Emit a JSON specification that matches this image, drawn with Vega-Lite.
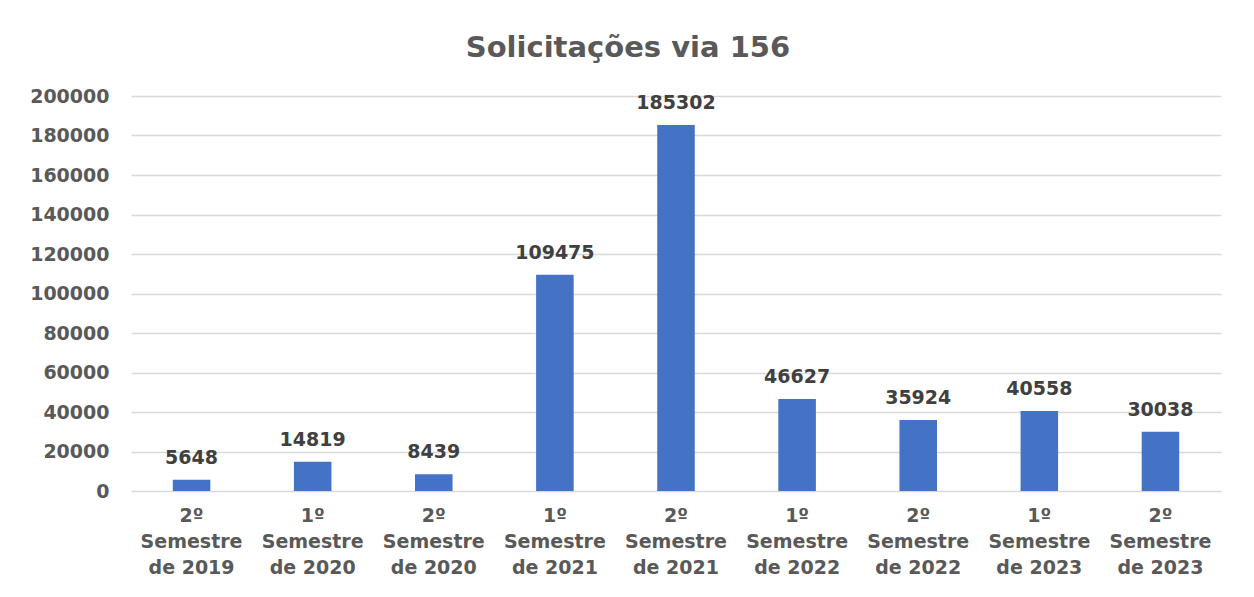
{
  "$schema": "https://vega.github.io/schema/vega-lite/v6.json",
  "width": 1090,
  "height": 395,
  "autosize": "none",
  "padding": {"left": 131, "top": 96, "right": 33, "bottom": 106},
  "background": "white",
  "title": {
    "text": "Solicitações via 156",
    "font": "DejaVu Sans",
    "fontSize": 29,
    "fontWeight": "bold",
    "color": "#595959",
    "anchor": "middle",
    "dx": -48,
    "offset": 24
  },
  "data": {
    "values": [
      {"periodo": "2º|Semestre|de 2019", "valor": 5648},
      {"periodo": "1º|Semestre|de 2020", "valor": 14819},
      {"periodo": "2º|Semestre|de 2020", "valor": 8439},
      {"periodo": "1º|Semestre|de 2021", "valor": 109475},
      {"periodo": "2º|Semestre|de 2021", "valor": 185302},
      {"periodo": "1º|Semestre|de 2022", "valor": 46627},
      {"periodo": "2º|Semestre|de 2022", "valor": 35924},
      {"periodo": "1º|Semestre|de 2023", "valor": 40558},
      {"periodo": "2º|Semestre|de 2023", "valor": 30038}
    ]
  },
  "encoding": {
    "x": {
      "field": "periodo",
      "type": "nominal",
      "sort": null,
      "scale": {"paddingInner": 0.69, "paddingOuter": 0.345},
      "axis": {
        "title": null,
        "labelAngle": 0,
        "labelExpr": "split(datum.value, '|')",
        "labelFont": "DejaVu Sans",
        "labelFontSize": 19,
        "labelFontWeight": "bold",
        "labelColor": "#595959",
        "labelLineHeight": 26,
        "labelPadding": 15,
        "ticks": false,
        "domain": false,
        "labelBaseline": "top"
      }
    },
    "y": {
      "field": "valor",
      "type": "quantitative",
      "scale": {"domain": [0, 200000], "nice": false},
      "axis": {
        "title": null,
        "values": [0, 20000, 40000, 60000, 80000, 100000, 120000, 140000, 160000, 180000, 200000],
        "format": "d",
        "labelFont": "DejaVu Sans",
        "labelFontSize": 19,
        "labelFontWeight": "bold",
        "labelColor": "#595959",
        "labelPadding": 22,
        "ticks": false,
        "domain": false,
        "gridColor": "#d9d9d9",
        "gridWidth": 1.5
      }
    }
  },
  "layer": [
    {"mark": {"type": "bar", "color": "#4472C4"}},
    {
      "mark": {
        "type": "text",
        "dy": -22,
        "font": "DejaVu Sans",
        "fontSize": 19,
        "fontWeight": "bold",
        "color": "#404040"
      },
      "encoding": {"text": {"field": "valor", "type": "quantitative", "format": "d"}}
    }
  ],
  "config": {"view": {"stroke": null}}
}
